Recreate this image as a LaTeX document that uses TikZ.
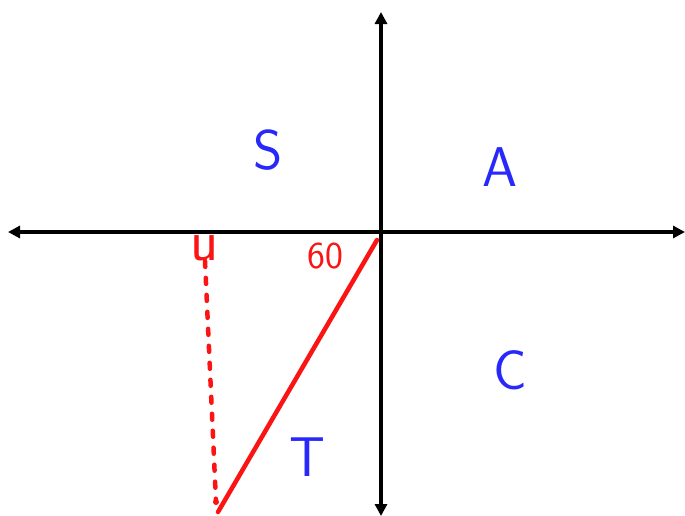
\documentclass[tikz,border=0pt]{standalone}
\usetikzlibrary{arrows.meta, positioning}
\usepackage{xcolor}
\definecolor{inkblue}{RGB}{40,40,250}
\definecolor{inkred}{RGB}{250,20,20}
\tikzset{
  % Axis with arrows at both ends
  axis/.style={
    {Triangle[length=12pt,width=12pt]}-{Triangle[length=12pt,width=12pt]},
    line width=4.5pt, color=black
  },
  % Quadrant letter
  quadlabel/.style={
    text=inkblue, font=\sffamily\fontsize{56}{56}\selectfont, inner sep=0pt
  },
  % Red annotation text
  redlabel/.style={
    text=inkred, font=\sffamily\fontsize{42}{42}\selectfont, inner sep=0pt
  },
  % Red pen line
  redline/.style={
    color=inkred, line width=4.5pt, line cap=round
  },
  % Red dotted projection
  reddots/.style={
    color=inkred, line width=4.5pt, line cap=round, dash pattern=on 6pt off 11pt
  },
}
\begin{document}
\begin{tikzpicture}[x=1pt, y=-1pt]
  \useasboundingbox (0,0) rectangle (685,515);
  % axes
  \coordinate (west) at (8,232);
  \coordinate (east) at (685,232);
  \coordinate (north) at (381,12);
  \coordinate (south) at (381,516);
  \draw[axis] (west) -- (east);
  \draw[axis] (north) -- (south);
  % quadrant letters
  \node[quadlabel] (qs) at (268,150) {S};
  \node[quadlabel] (qa) at (500,167) {A};
  \node[quadlabel] (qc) at (510,370) {C};
  \node[quadlabel] (qt) at (307,457) {T};
  % angle and terminal side
  \node[redlabel, font=\sffamily\fontsize{38}{38}\selectfont] (angle) at (325,256) {60};
  \node[redlabel, font=\sffamily\fontsize{58}{58}\selectfont] (foot) at (205,248) {u};
  \coordinate (origin) at (377,240);
  \coordinate (tip) at (218,512);
  \coordinate (drop) at (216,502);
  \draw[redline] (origin) -- (tip);
  \draw[reddots] (foot.south) -- (drop);
  \fill[inkred] (drop) circle (3pt);
\end{tikzpicture}
\end{document}
